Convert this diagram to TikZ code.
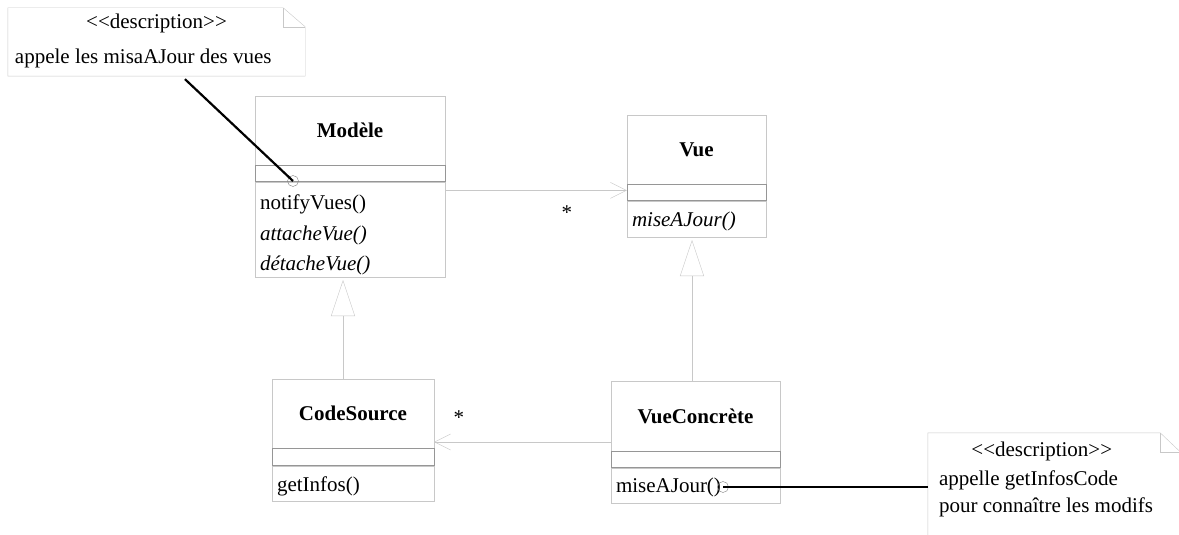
\documentclass[tikz,border=0pt]{standalone}
\usepackage{fontspec}
\setmainfont{Liberation Serif}
\usetikzlibrary{positioning,arrows.meta}
\definecolor{boxgrey}{RGB}{200,200,200}
\definecolor{attrgrey}{RGB}{150,150,150}
\tikzset{
  cls-name/.style={draw=boxgrey, inner sep=0pt, minimum height=69pt,
    font=\fontsize{21}{25}\selectfont\bfseries},
  cls-attr/.style={draw=attrgrey, inner sep=0pt, minimum height=16pt, below=0pt of #1},
  cls-ops/.style 2 args={draw=boxgrey, inner xsep=5pt, inner ysep=0pt, align=left,
    font=\fontsize{21}{30.5}\selectfont, below=0pt of #1,
    execute at begin node={\rule{0pt}{#2}}},
  assoc/.style={draw=boxgrey, -{Straight Barb[length=16pt,width=16pt]}},
  gen/.style={draw=boxgrey, shorten >=3pt, -{Triangle[open,length=36pt,width=24pt,fill=white]}},
  mult/.style={font=\fontsize{21}{25}\selectfont, inner sep=0pt},
  note-text/.style={font=\fontsize{21}{25}\selectfont, inner sep=0pt},
  note-link/.style={line width=2.2pt, black},
  pin/.style={circle, draw=gray, minimum size=11pt, inner sep=0pt}
}
% note outline with folded corner
\newcommand{\notebox}[3]{
  \draw[boxgrey] (#1.south west) -- (#1.north west) -- ([xshift=-#2pt]#1.north east)
    -- ([yshift=-#3pt]#1.north east) -- (#1.south east) -- cycle;
  \draw[boxgrey] ([xshift=-#2pt]#1.north east) |- ([yshift=-#3pt]#1.north east);
}

\begin{document}
\begin{tikzpicture}[x=1pt,y=-1pt]
  \clip (0,0) rectangle (1179,535);

  % Classes
  \node[cls-name, minimum width=190pt] (modele) at (350,130.5) {Modèle};
  \node[cls-attr=modele, minimum width=190pt] (modele-attr) {};
  \node[cls-ops={modele-attr}{26pt}, text width=180pt, minimum height=95pt] (modele-ops)
    {notifyVues()\\\textit{attacheVue()}\\\textit{détacheVue()}};

  \node[cls-name, minimum width=139pt] (vue) at (696.5,149.5) {Vue};
  \node[cls-attr=vue, minimum width=139pt] (vue-attr) {};
  \node[cls-ops={vue-attr}{19.5pt}, text width=129pt, minimum height=36pt] (vue-ops)
    {\textit{miseAJour()}};

  \node[cls-name, minimum width=162pt] (cs) at (353,413.5) {CodeSource};
  \node[cls-attr=cs, minimum width=162pt, minimum height=17pt] (cs-attr) {};
  \node[cls-ops={cs-attr}{20.5pt}, text width=152pt, minimum height=35pt] (cs-ops) {getInfos()};

  \node[cls-name, minimum width=169pt, minimum height=70pt] (vc) at (695.5,416) {VueConcrète};
  \node[cls-attr=vc, minimum width=169pt] (vc-attr) {};
  \node[cls-ops={vc-attr}{19.5pt}, text width=159pt, minimum height=35pt] (vc-ops) {miseAJour()};

  % Associations
  \coordinate (vue-link) at ([yshift=2pt]vue-attr.west);
  \draw[assoc] (vue-link -| modele-ops.east) -- (vue-link)
    node[mult, pos=0.67, yshift=-22pt] (vue-mult) {*};
  \coordinate (vc-link) at ([yshift=-26pt]vc.west);
  \draw[assoc] (vc-link) -- (vc-link -| cs.east)
    node[mult, pos=0.86, yshift=24pt] (cs-mult) {*};

  % Generalisations
  \coordinate (cs-top) at ([xshift=-10pt]cs.north);
  \draw[gen] (cs-top) -- (cs-top |- modele-ops.south);
  \coordinate (vc-top) at ([xshift=-3.5pt]vc.north);
  \draw[gen] (vc-top) -- (vc-top |- vue-ops.south);

  % Notes
  \node[minimum width=297pt, minimum height=68pt, inner sep=0pt] (note1) at (156.5,42) {};
  \notebox{note1}{22}{19}
  \node[note-text] (note1-stereo) at ([yshift=-16pt]note1.north) {{<}{<}description{>}{>}};
  \node[note-text, anchor=west] (note1-body) at ([xshift=7pt,yshift=-16pt]note1.west)
    {appele les misaAJour des vues};
  \node[pin] (pin1) at (293,181) {};
  \draw[note-link] ([xshift=28.5pt,yshift=-3pt]note1.south) -- (pin1.center);

  \node[minimum width=252pt, minimum height=112pt, inner sep=0pt] (note2) at (1054,489) {};
  \notebox{note2}{20}{19}
  \node[note-text] (note2-stereo) at ([xshift=114pt,yshift=-19pt]note2.north west)
    {{<}{<}description{>}{>}};
  \node[note-text, anchor=west, align=left, font=\fontsize{21}{27}\selectfont] (note2-body)
    at ([xshift=11pt,yshift=-61pt]note2.north west)
    {appelle getInfosCode\\pour connaître les modifs};
  \node[pin] (pin2) at (723,487) {};
  \draw[note-link] (pin2.center) -- (pin2 -| note2.west);
\end{tikzpicture}
\end{document}
